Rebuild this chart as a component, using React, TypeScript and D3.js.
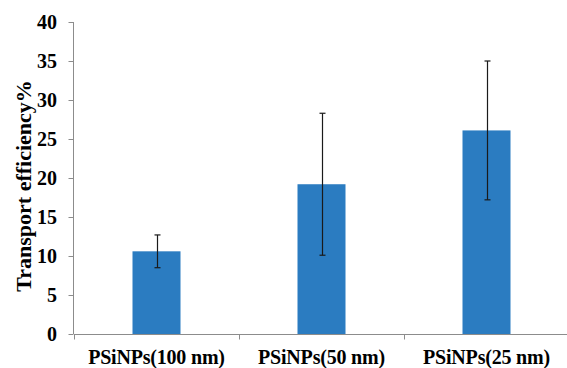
import React, { useEffect, useRef } from "react";
import * as d3 from "d3";

const categories = ["PSiNPs(100 nm)", "PSiNPs(50 nm)", "PSiNPs(25 nm)"];
const values = [10.6, 19.2, 26.1];
const errors = [2.1, 9.1, 8.9];
const yTicks = [0, 5, 10, 15, 20, 25, 30, 35, 40];

const App = () => {
  const ref = useRef<SVGSVGElement>(null);

  useEffect(() => {
    const width = 567;
    const height = 368;
    const margin = { top: 22, right: -2, bottom: 34, left: 74 };

    const svg = d3.select(ref.current);
    svg.selectAll("*").remove();

    const x = d3.scaleBand()
      .domain(categories)
      .range([margin.left, width - margin.right])
      .paddingInner(0)
      .paddingOuter(0);

    const y = d3.scaleLinear()
      .domain([0, 40])
      .range([height - margin.bottom, margin.top]);

    const font = "Liberation Serif";
    const axisColor = "#8c8c8c";

    // y axis
    const yAxis = svg.append("g").attr("transform", `translate(${margin.left - 0.5},0)`);
    yAxis.append("line")
      .attr("y1", y(0)).attr("y2", y(40))
      .attr("stroke", axisColor);
    yAxis.selectAll("line.tick")
      .data(yTicks)
      .join("line")
      .attr("class", "tick")
      .attr("x1", -5).attr("x2", 0)
      .attr("y1", d => Math.round(y(d)) + 0.5)
      .attr("y2", d => Math.round(y(d)) + 0.5)
      .attr("stroke", axisColor);
    yAxis.selectAll("text")
      .data(yTicks)
      .join("text")
      .attr("x", -16.5)
      .attr("y", d => y(d))
      .attr("dy", "0.35em")
      .attr("text-anchor", "end")
      .style("font-family", font)
      .style("font-weight", "bold")
      .style("font-size", "20px")
      .text(d => d);

    // x axis
    const xAxis = svg.append("g").attr("transform", `translate(0,${Math.round(y(0)) + 0.5})`);
    xAxis.append("line")
      .attr("x1", margin.left).attr("x2", width)
      .attr("stroke", axisColor);
    const bounds = categories.map(c => x(c) as number).concat([x.range()[1]]);
    xAxis.selectAll("line.tick")
      .data(bounds)
      .join("line")
      .attr("class", "tick")
      .attr("x1", d => Math.round(d) + 0.5)
      .attr("x2", d => Math.round(d) + 0.5)
      .attr("y1", 0).attr("y2", 5)
      .attr("stroke", axisColor);
    xAxis.selectAll("text")
      .data(categories)
      .join("text")
      .attr("x", d => (x(d) as number) + x.bandwidth() / 2)
      .attr("y", 29)
      .attr("text-anchor", "middle")
      .style("font-family", font)
      .style("font-weight", "bold")
      .style("font-size", "20px")
      .style("letter-spacing", "-0.2px")
      .text(d => d);

    // bars
    const barW = 48;
    svg.append("g")
      .selectAll("rect")
      .data(categories)
      .join("rect")
      .attr("x", d => (x(d) as number) + x.bandwidth() / 2 - barW / 2)
      .attr("y", (d, i) => y(values[i]))
      .attr("width", barW)
      .attr("height", (d, i) => y(0) - y(values[i]))
      .attr("fill", "#2b7cc1");

    // error bars
    const eb = svg.append("g")
      .attr("stroke", "#1a1a1a")
      .attr("stroke-width", 1.2);
    categories.forEach((c, i) => {
      const cx = Math.round((x(c) as number) + x.bandwidth() / 2) + 0.5;
      const hi = y(values[i] + errors[i]);
      const lo = y(values[i] - errors[i]);
      eb.append("line").attr("x1", cx).attr("x2", cx).attr("y1", hi).attr("y2", lo);
      eb.append("line").attr("x1", cx - 3).attr("x2", cx + 3).attr("y1", hi).attr("y2", hi);
      eb.append("line").attr("x1", cx - 3).attr("x2", cx + 3).attr("y1", lo).attr("y2", lo);
    });

    // y title
    svg.append("text")
      .attr("transform", `translate(23,186) rotate(-90)`)
      .attr("dy", "0.35em")
      .attr("text-anchor", "middle")
      .style("font-family", font)
      .style("font-weight", "bold")
      .style("font-size", "22px")
      .text("Transport efficiency%");
  }, []);

  return (
    <svg
      ref={ref}
      width={567}
      height={368}
      style={{ position: "absolute", left: 0, top: 0, background: "#fff" }}
    />
  );
};

export default App;
